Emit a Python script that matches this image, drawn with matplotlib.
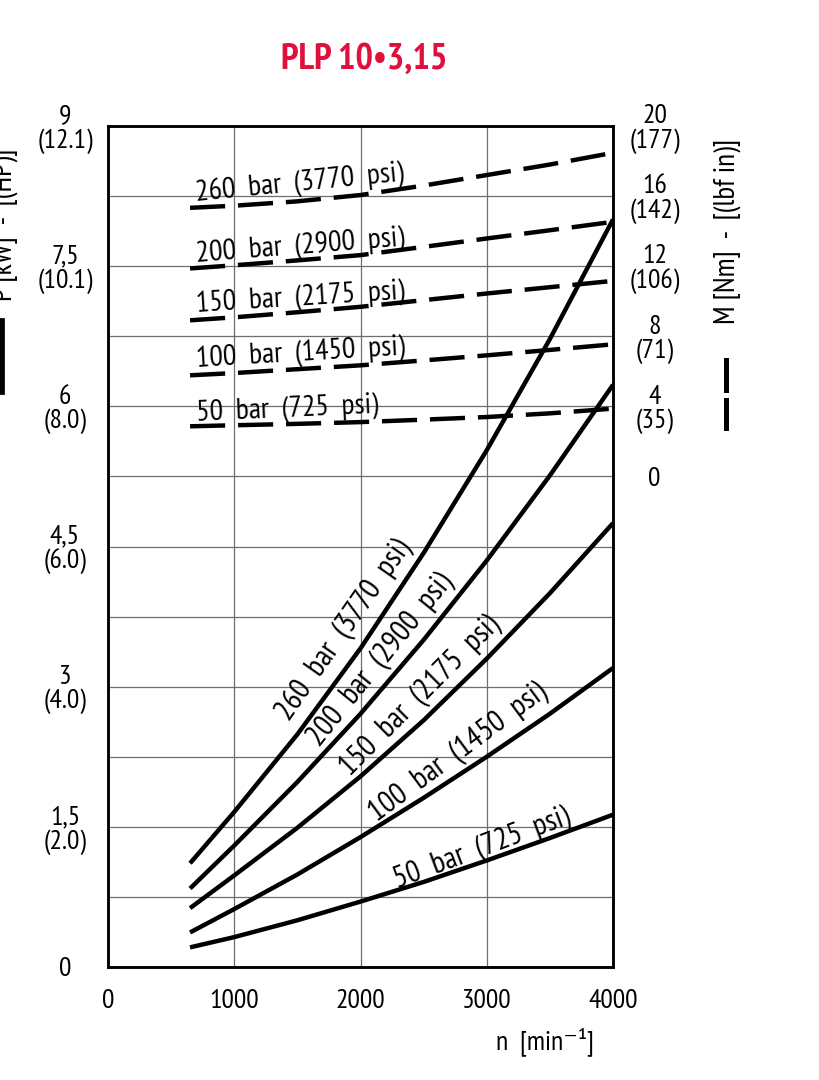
"""PLP 10-3,15 pump chart: power and torque against speed."""

import matplotlib

matplotlib.use("Agg")
import matplotlib.pyplot as plt
from matplotlib.lines import Line2D


SPEED = [650, 1000, 1500, 2000, 2500, 3000, 3500, 4000]

PRESSURES = ["260", "200", "150", "100", "50"]
PSI = ["3770", "2900", "2175", "1450", "725"]

POWER_260 = [1.11, 1.66, 2.49, 3.41, 4.43, 5.53, 6.72, 8.00]
POWER_200 = [0.84, 1.30, 1.98, 2.71, 3.50, 4.35, 5.26, 6.23]
POWER_150 = [0.63, 0.98, 1.49, 2.04, 2.64, 3.30, 4.00, 4.75]
POWER_100 = [0.37, 0.62, 0.99, 1.39, 1.81, 2.25, 2.71, 3.20]
POWER_50 = [0.21, 0.32, 0.50, 0.70, 0.91, 1.14, 1.38, 1.63]

TORQUE_260 = [15.33, 15.45, 15.70, 16.06, 16.60, 17.20, 17.80, 18.47]
TORQUE_200 = [11.87, 12.05, 12.33, 12.63, 13.10, 13.58, 14.05, 14.53]
TORQUE_150 = [8.91, 9.08, 9.37, 9.68, 10.06, 10.44, 10.80, 11.16]
TORQUE_100 = [5.77, 5.90, 6.12, 6.34, 6.62, 6.91, 7.22, 7.54]
TORQUE_50 = [2.86, 2.92, 3.00, 3.10, 3.24, 3.39, 3.60, 3.87]

SPEED_TICKS = [0, 1000, 2000, 3000, 4000]
POWER_TICKS = [0, 1.5, 3, 4.5, 6, 7.5, 9]
POWER_TICK_LABELS = ["0", "1,5\n(2.0)", "3\n(4.0)", "4,5\n(6.0)", "6\n(8.0)", "7,5\n(10.1)", "9\n(12.1)"]
TORQUE_TICKS = [0, 4, 8, 12, 16, 20]
TORQUE_TICK_LABELS = ["0", "4\n(35)", "8\n(71)", "12\n(106)", "16\n(142)", "20\n(177)"]

POWER = [POWER_260, POWER_200, POWER_150, POWER_100, POWER_50]
TORQUE = [TORQUE_260, TORQUE_200, TORQUE_150, TORQUE_100, TORQUE_50]

# label placement (speed, value, angle)
POWER_LABEL_POS = [(1869, 3.60, 55), (2160, 3.29, 51), (2477, 2.90, 45), (2775, 2.29, 36.5), (2960, 1.27, 20.5)]
TORQUE_LABEL_POS = [(702, 15.67, 5.6), (702, 12.25, 4.5), (702, 9.39, 3.6), (702, 6.25, 3.4), (702, 3.20, 2.6)]

plt.rcParams["font.family"] = ["PT Sans Narrow", "DejaVu Sans"]

W, H = 819, 1080
fig = plt.figure(figsize=(W / 100, H / 100), dpi=100)
ax = fig.add_axes([108 / W, 1 - 967 / H, 505 / W, 841 / H])
ax2 = ax.twinx()

ax.set_xlim(0, 4000)
ax.set_ylim(0, 9)
ax2.set_ylim(-28, 20)

ax.set_xticks(SPEED_TICKS)
ax.set_xticklabels([str(v) for v in SPEED_TICKS], fontsize=20)
ax.set_yticks(POWER_TICKS)
ax.set_yticklabels(POWER_TICK_LABELS, fontsize=20, linespacing=1.0)
ax.set_yticks([i * 0.75 for i in range(1, 12, 2)], minor=True)
ax.grid(which="both", color="#6e6e6e", linewidth=0.9)
ax.tick_params(which="both", length=0)
ax.tick_params(axis="x", pad=16)
ax.tick_params(axis="y", pad=31)
ax.set_axisbelow(True)
for label in ax.get_yticklabels():
    label.set_horizontalalignment("center")

ax2.set_yticks(TORQUE_TICKS)
ax2.set_yticklabels(TORQUE_TICK_LABELS, fontsize=20, linespacing=1.0)
ax2.tick_params(which="both", length=0)
ax2.tick_params(axis="y", pad=30)
for label in ax2.get_yticklabels():
    label.set_horizontalalignment("center")

for a in (ax, ax2):
    for spine in a.spines.values():
        spine.set_linewidth(1.8)

for values in POWER:
    ax.plot(SPEED, values, color="black", linewidth=3.2, solid_capstyle="butt")
for values in TORQUE:
    ax2.plot(SPEED, values, color="black", linewidth=3.2, dashes=(7.9, 2.9), dash_capstyle="butt")

for bar, psi, (n, p, rot) in zip(PRESSURES, PSI, POWER_LABEL_POS):
    ax.text(n, p, f"{bar}  bar  ({psi}  psi)", fontsize=22, rotation=rot,
            rotation_mode="anchor", ha="center", va="center")
for bar, psi, (n, m, rot) in zip(PRESSURES, PSI, TORQUE_LABEL_POS):
    ax2.text(n, m, f"{bar}  bar  ({psi}  psi)", fontsize=21.5, rotation=rot,
             rotation_mode="anchor", ha="left", va="baseline")

fig.text(364 / W, 1 - 59 / H, "PLP 10•3,15", color="#e0103c", fontsize=26.5,
         fontweight="bold", ha="center", va="center")
fig.text(545 / W, 1 - 1042 / H, "n  [min⁻¹]", fontsize=20, ha="center", va="center")

fig.text(727 / W, 1 - 231 / H, "M [Nm]  -  [(lbf in)]", fontsize=21, rotation=90,
         ha="center", va="center")
for y0, y1 in ((360, 390), (400, 428)):
    fig.add_artist(Line2D([726 / W, 726 / W], [1 - y0 / H, 1 - y1 / H], color="black",
                          linewidth=3.6, transform=fig.transFigure))

fig.text(4 / W, 1 - 225 / H, "P [kW]  -  [(HP)]", fontsize=21, rotation=90,
         ha="center", va="center")
fig.add_artist(Line2D([0, 0], [1 - 323 / H, 1 - 390 / H], color="black",
                      linewidth=7, transform=fig.transFigure))

fig.savefig("out.png", dpi=100)
